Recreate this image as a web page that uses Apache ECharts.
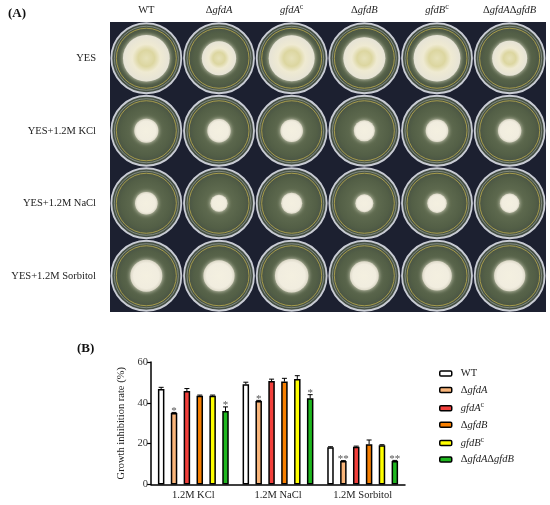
<!DOCTYPE html>
<html>
<head>
<meta charset="utf-8">
<script src="https://cdn.jsdelivr.net/npm/echarts@6/dist/echarts.min.js"></script>
<style>
  html, body { margin: 0; padding: 0; background: #fff; }
  #main { width: 550px; height: 505px; }
</style>
</head>
<body>
<div id="main"></div>
<script>
// panel A: strains (columns) and growth conditions (rows)
const strains = ['WT', 'ΔgfdA', 'gfdAc', 'ΔgfdB', 'gfdBc', 'ΔgfdAΔgfdB'];
const conditions = ['YES', 'YES+1.2M KCl', 'YES+1.2M NaCl', 'YES+1.2M Sorbitol'];

// colony diameters (mm, 90 mm plates)
const colonyYES = [60, 44, 59, 54, 60, 45];
const colonyKCl = [31, 30, 29, 27, 29, 30];
const colonyNaCl = [29, 22, 27, 23, 25, 25];
const colonySorbitol = [41, 40, 43, 37, 38, 40];

// panel B: growth inhibition rate (%)
const stressCats = ['1.2M KCl', '1.2M NaCl', '1.2M Sorbitol'];
const yTicks = [0, 20, 40, 60];
const valWT = [46.8, 49.1, 18.2];
const valDA = [35.0, 40.9, 11.5];
const valCA = [45.8, 50.7, 18.5];
const valDB = [43.5, 50.4, 19.7];
const valCB = [43.5, 51.7, 19.2];
const valDAB = [36.0, 42.2, 11.5];
// upper error (SD)
const errWT = [0.8, 1.0, 0.3];
const errDA = [0.3, 0.3, 0.2];
const errCA = [1.2, 0.9, 0.3];
const errDB = [0.3, 1.6, 2.1];
const errCB = [0.3, 1.6, 0.3];
const errDAB = [2.0, 1.8, 0.3];
// significance marks
const sigDA = ['*', '*', '**'];
const sigDAB = ['*', '*', '**'];

const barColors = ['#ffffff', '#f9b57a', '#f2403c', '#f77f00', '#ffff00', '#1fb81f'];
const FONT = 'Liberation Serif';

function richName(name) {
    switch (name) {
        case 'ΔgfdA': return '{n|Δ}{i|gfdA}';
        case 'gfdAc': return '{i|gfdA}{s|c}';
        case 'ΔgfdB': return '{n|Δ}{i|gfdB}';
        case 'gfdBc': return '{i|gfdB}{s|c}';
        case 'ΔgfdAΔgfdB': return '{n|Δ}{i|gfdA}{n|Δ}{i|gfdB}';
        default: return '{n|' + name + '}';
    }
}
const richStyles = {
    n: { fontFamily: FONT, fontSize: 10.5, color: '#222', lineHeight: 14 },
    i: { fontFamily: FONT, fontSize: 10.5, color: '#222', fontStyle: 'italic', lineHeight: 14 },
    s: { fontFamily: FONT, fontSize: 8, color: '#222', verticalAlign: 'top', lineHeight: 8 }
};

// plate / colony points on the photo grid
const colonyRows = [colonyYES, colonyKCl, colonyNaCl, colonySorbitol];
const plateData = [];
const colonyData = [];
colonyRows.forEach((row, r) => {
    row.forEach((d, c) => {
        plateData.push([c, r]);
        colonyData.push({
            value: [c, r, d],
            itemStyle: r === 0 ? {
                color: {
                    type: 'radial', x: 0.5, y: 0.5, r: 0.5,
                    colorStops: [
                        { offset: 0, color: '#e6e1b8' },
                        { offset: 0.35, color: '#dcd6a0' },
                        { offset: 0.6, color: '#efead2' },
                        { offset: 1, color: '#e6e3d6' }
                    ]
                }
            } : undefined
        });
    });
});
const PLATE_PX = 70;
const PLATE_MM = 90;

// bars
const barSeriesDefs = [
    { name: 'WT', val: valWT, err: errWT, sig: null },
    { name: 'ΔgfdA', val: valDA, err: errDA, sig: sigDA },
    { name: 'gfdAc', val: valCA, err: errCA, sig: null },
    { name: 'ΔgfdB', val: valDB, err: errDB, sig: null },
    { name: 'gfdBc', val: valCB, err: errCB, sig: null },
    { name: 'ΔgfdAΔgfdB', val: valDAB, err: errDAB, sig: sigDAB }
];
const BAR_W = 6.5;
const BAR_GAP = 0.98;
const pitch = BAR_W * (1 + BAR_GAP);

const errItems = [];
barSeriesDefs.forEach((s, k) => {
    s.val.forEach((v, c) => {
        errItems.push({ value: [c, v, s.err[c], k], sig: s.sig ? s.sig[c] : '' });
    });
});

const chart = echarts.init(document.getElementById('main'));

const option = {
    animation: false,
    textStyle: { fontFamily: FONT },
    graphic: [
        { type: 'text', left: 8, top: 7, style: { text: '(A)', font: 'bold 13px "Liberation Serif"', fill: '#111' } },
        { type: 'text', left: 77, top: 342, style: { text: '(B)', font: 'bold 13px "Liberation Serif"', fill: '#111' } }
    ],
    legend: {
        orient: 'vertical',
        left: 434,
        top: 363,
        itemWidth: 12,
        itemHeight: 5,
        itemGap: 5.6,
        selectedMode: false,
        data: strains,
        itemStyle: { borderColor: '#000', borderWidth: 1.5 },
        formatter: richName,
        textStyle: { rich: richStyles, padding: [0, 0, 0, 4] }
    },
    grid: [
        { left: 110, top: 22, width: 436, height: 290, show: true, backgroundColor: '#1c2030', borderWidth: 0 },
        { left: 151, top: 362, width: 254, height: 122.5 }
    ],
    xAxis: [
        {
            gridIndex: 0, type: 'category', position: 'top', data: strains,
            axisLine: { show: false }, axisTick: { show: false },
            axisLabel: { interval: 0, margin: 5, formatter: richName, rich: richStyles }
        },
        {
            gridIndex: 1, type: 'category', data: stressCats,
            axisLine: { lineStyle: { color: '#000', width: 1.5 } },
            axisTick: { alignWithLabel: true, length: 4, lineStyle: { color: '#000', width: 1.2 } },
            axisLabel: { margin: 5, fontSize: 10.5, color: '#222', fontFamily: FONT }
        }
    ],
    yAxis: [
        {
            gridIndex: 0, type: 'category', inverse: true, data: conditions,
            axisLine: { show: false }, axisTick: { show: false }, splitLine: { show: false },
            axisLabel: { interval: 0, margin: 14, fontSize: 10.5, color: '#222', fontFamily: FONT }
        },
        {
            gridIndex: 1, type: 'value', min: yTicks[0], max: yTicks[yTicks.length - 1], interval: 20,
            name: 'Growth inhibition rate (%)', nameLocation: 'middle', nameGap: 24,
            nameTextStyle: { fontSize: 10.5, color: '#222', fontFamily: FONT },
            axisLine: { show: true, lineStyle: { color: '#000', width: 1.5 } },
            axisTick: { show: true, length: 4, lineStyle: { color: '#000', width: 1.2 } },
            splitLine: { show: false },
            axisLabel: { margin: 3, fontSize: 10.5, color: '#333', fontFamily: FONT }
        }
    ],
    series: [
        // petri dishes
        {
            type: 'scatter', xAxisIndex: 0, yAxisIndex: 0, silent: true,
            symbol: 'circle', symbolSize: PLATE_PX, data: plateData,
            itemStyle: {
                opacity: 1,
                color: {
                    type: 'radial', x: 0.5, y: 0.5, r: 0.5,
                    colorStops: [
                        { offset: 0, color: '#6a7658' },
                        { offset: 0.7, color: '#535f46' },
                        { offset: 0.93, color: '#454f44' },
                        { offset: 1, color: '#8a909a' }
                    ]
                },
                borderColor: '#c9ccd4', borderWidth: 1.8
            }
        },
        {
            type: 'scatter', xAxisIndex: 0, yAxisIndex: 0, silent: true,
            symbol: 'circle', symbolSize: 60, data: plateData,
            itemStyle: { opacity: 0.85, color: 'rgba(0,0,0,0)', borderColor: '#b4a64c', borderWidth: 1 }
        },
        {
            type: 'scatter', xAxisIndex: 0, yAxisIndex: 0, silent: true,
            symbol: 'circle', symbolSize: 64, data: plateData,
            itemStyle: { opacity: 0.6, color: 'rgba(0,0,0,0)', borderColor: '#a8b0a8', borderWidth: 1 }
        },
        // colonies
        {
            type: 'scatter', xAxisIndex: 0, yAxisIndex: 0, silent: true,
            symbol: 'circle', data: colonyData,
            symbolSize: v => v[2] / PLATE_MM * PLATE_PX,
            itemStyle: {
                opacity: 1,
                color: {
                    type: 'radial', x: 0.5, y: 0.5, r: 0.5,
                    colorStops: [
                        { offset: 0, color: '#f4f0e0' },
                        { offset: 0.8, color: '#f1eddf' },
                        { offset: 1, color: '#dcd8c8' }
                    ]
                },
                shadowBlur: 4, shadowColor: 'rgba(240,236,218,0.9)'
            }
        },
        // bars
        ...barSeriesDefs.map((s, k) => ({
            name: s.name, type: 'bar', xAxisIndex: 1, yAxisIndex: 1,
            barWidth: BAR_W, barGap: (BAR_GAP * 100) + '%',
            data: s.val,
            itemStyle: { color: barColors[k], borderColor: '#000', borderWidth: 1.5 }
        })),
        // error bars + significance
        {
            type: 'custom', xAxisIndex: 1, yAxisIndex: 1, silent: true, z: 5,
            data: errItems,
            renderItem(params, api) {
                const c = api.value(0), v = api.value(1), e = api.value(2), k = api.value(3);
                const base = api.coord([c, v]);
                const top = api.coord([c, v + e]);
                const x = base[0] + (k - 2.5) * pitch;
                const children = [
                    { type: 'line', shape: { x1: x, y1: base[1], x2: x, y2: top[1] }, style: { stroke: '#000', lineWidth: 1 } },
                    { type: 'line', shape: { x1: x - 2.5, y1: top[1], x2: x + 2.5, y2: top[1] }, style: { stroke: '#000', lineWidth: 1 } }
                ];
                const sig = errItems[params.dataIndex].sig;
                if (sig) {
                    children.push({
                        type: 'text',
                        style: {
                            text: sig, x: x, y: top[1] + 4, align: 'center', verticalAlign: 'bottom',
                            font: '11px "Liberation Serif"', fill: '#555'
                        }
                    });
                }
                return { type: 'group', children };
            }
        }
    ]
};

chart.setOption(option);
</script>
</body>
</html>
